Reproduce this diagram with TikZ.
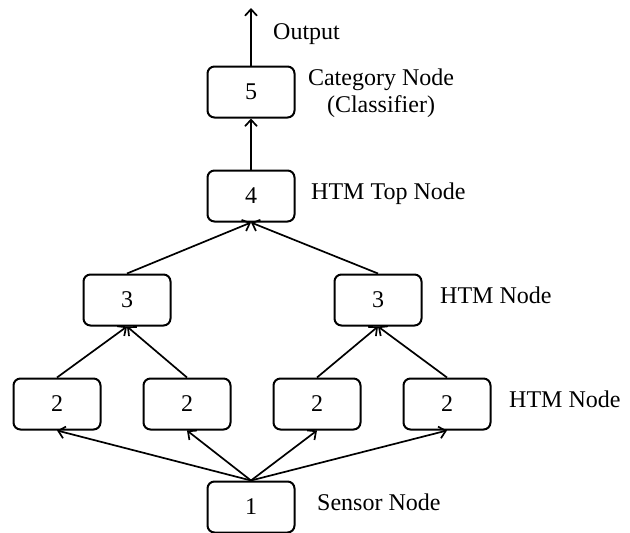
\documentclass[tikz,border=0pt]{standalone}
\usepackage{fontspec}
\setmainfont{Liberation Serif}
\usetikzlibrary{arrows.meta}
\begin{document}
\begin{tikzpicture}[x=1pt,y=-1pt,
  htmbox/.style={draw, line width=2pt, rounded corners=7pt, minimum width=87pt, minimum height=51pt, inner sep=0pt, font=\fontsize{24}{28}\selectfont},
  lbl/.style={anchor=west, inner sep=0pt, font=\fontsize{24}{27}\selectfont, text height=0.7em, text depth=0.2em},
  arr/.style={line width=1.7pt, -{Straight Barb[length=6.5pt,width=12pt,line width=1.7pt]}}
]
\useasboundingbox (0,0) rectangle (630,533);
\node[htmbox] (n5) at (251,92) {5};
\node[htmbox] (n4) at (251,196) {4};
\node[htmbox] (n3a) at (127,300) {3};
\node[htmbox] (n3b) at (378,300) {3};
\node[htmbox] (n2a) at (57,404) {2};
\node[htmbox] (n2b) at (187,404) {2};
\node[htmbox] (n2c) at (317,404) {2};
\node[htmbox] (n2d) at (447,404) {2};
\node[htmbox] (n1) at (251,507) {1};
\coordinate (out) at (251,8);

\node[lbl] (tout) at (273,37) {Output};
\node[anchor=center, align=center, inner sep=0pt, font=\fontsize{24}{27}\selectfont] (tcat) at (381,93) {Category Node\\(Classifier)};
\node[lbl] (ttop) at (311,197) {HTM Top Node};
\node[lbl] (thtm3) at (440,301) {HTM Node};
\node[lbl] (thtm2) at (509,405) {HTM Node};
\node[lbl] (tsen) at (317,508) {Sensor Node};

\draw[arr] (n5.north) -- (out);
\draw[arr] (n4.north) -- (n5.south);
\draw[arr] (n3a.north) -- (n4.south);
\draw[arr] (n3b.north) -- (n4.south);
\draw[arr] (n2a.north) -- (n3a.south);
\draw[arr] (n2b.north) -- (n3a.south);
\draw[arr] (n2c.north) -- (n3b.south);
\draw[arr] (n2d.north) -- (n3b.south);
\draw[arr] (n1.north) -- (n2a.south);
\draw[arr] (n1.north) -- (n2b.south);
\draw[arr] (n1.north) -- (n2c.south);
\draw[arr] (n1.north) -- (n2d.south);
\end{tikzpicture}
\end{document}
